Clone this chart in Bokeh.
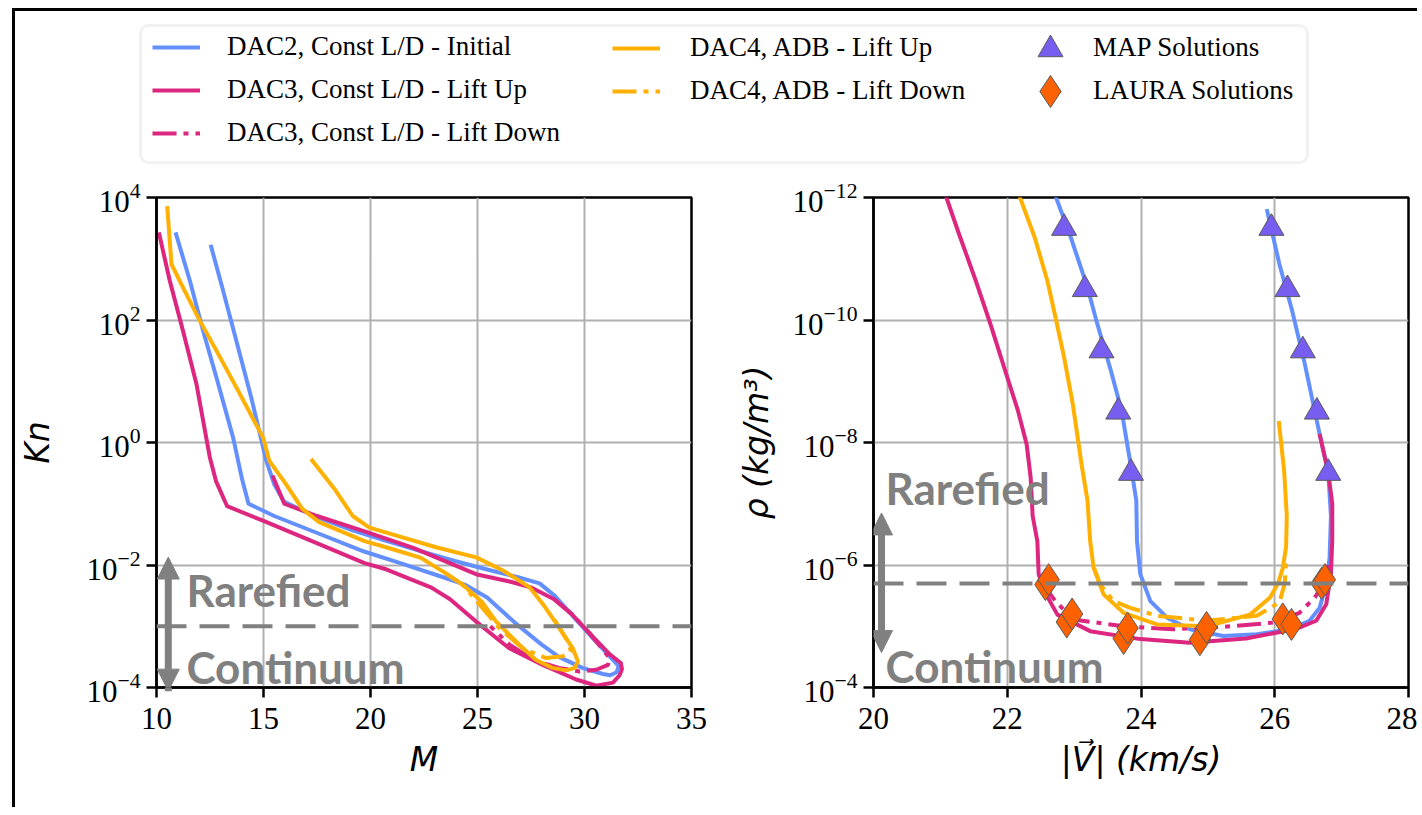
import numpy as np
from bokeh.plotting import figure
from bokeh.layouts import column, row
from bokeh.models import (Range1d, FixedTicker, Span, Label, Arrow, NormalHead,
                          Legend, LegendItem, BoxAnnotation)
from bokeh.embed import file_html
from bokeh.resources import INLINE

# ---------------- data ----------------
# Left panel: Mach number vs log10(Knudsen number)
dac2_M = [12.53, 13.11, 13.73, 14.43, 15.13, 15.5, 15.97, 17.5, 19.2, 20.7, 22.3, 23.9, 25.4,
          26.9, 27.9, 28.6, 29.5, 30.4, 31.2, 31.6, 31.5, 31.2, 30.86, 29.9, 28.8, 28.0, 26.84,
          25.45, 24.4, 23.4, 21.5, 19.7, 17.6, 15.5, 14.3, 14.0, 13.58, 12.80, 12.18, 11.56, 10.89]
dac2_logKn = [3.23, 2.48, 1.66, 0.73, -0.30, -0.68, -0.97, -1.22, -1.44, -1.6, -1.77, -1.93, -2.07,
              -2.2, -2.3, -2.5, -2.85, -3.2, -3.5, -3.65, -3.75, -3.8, -3.78, -3.68, -3.5, -3.3, -2.97,
              -2.53, -2.32, -2.2, -1.98, -1.78, -1.49, -1.2, -1.0, -0.6, 0.08, 1.06, 1.82, 2.64, 3.43]

dac3_up_M = [15.42, 15.97, 17.5, 19.72, 22.0, 24.93, 26.5, 27.53, 28.58, 29.4, 30.14, 31.18, 31.7,
             31.75, 31.64, 31.33, 30.55, 29.61, 28.05, 26.48, 24.92, 23.72, 22.85, 20.73, 19.72,
             17.6, 15.0, 13.3, 12.78, 12.49, 11.87, 11.24, 10.62, 10.11]
dac3_up_logKn = [-0.54, -1.0, -1.2, -1.45, -1.72, -2.15, -2.27, -2.37, -2.56, -2.8, -3.08, -3.46, -3.6,
                 -3.7, -3.8, -3.92, -3.97, -3.87, -3.63, -3.36, -2.92, -2.56, -2.37, -2.07, -1.97,
                 -1.66, -1.28, -1.04, -0.63, -0.24, 0.95, 1.82, 2.64, 3.43]

dac3_dn_M = [28.58, 29.4, 30.2, 30.9, 31.17, 31.1, 30.55, 29.77, 28.8, 27.6, 26.5, 25.6]
dac3_dn_logKn = [-2.56, -2.8, -3.1, -3.4, -3.52, -3.63, -3.71, -3.74, -3.68, -3.55, -3.3, -3.0]

dac4_up_M = [17.22, 18.3, 19.17, 19.95, 21.5, 23.06, 24.94, 26.19, 26.97, 27.45, 28.06, 28.83, 29.45,
             29.69, 29.55, 29.14, 28.5, 27.73, 26.95, 25.86, 25.2, 24.3, 23.36, 22.33, 20.73, 19.72,
             17.6, 16.8, 16.05, 15.27, 14.98, 13.73, 12.8, 12.02, 11.24, 10.7, 10.5]
dac4_up_logKn = [-0.27, -0.75, -1.20, -1.39, -1.55, -1.71, -1.875, -2.09, -2.26, -2.37, -2.64, -3.03,
                 -3.36, -3.57, -3.68, -3.72, -3.68, -3.55, -3.30, -2.92, -2.6, -2.32, -2.1, -1.88,
                 -1.71, -1.61, -1.30, -1.08, -0.68, -0.30, 0.08, 0.90, 1.50, 1.99, 2.53, 2.91, 3.86]

dac4_dn_M = [28.6, 29.22, 29.37, 28.98, 28.2, 27.11, 26.02, 25.08, 24.3, 23.36]
dac4_dn_logKn = [-2.9, -3.25, -3.41, -3.49, -3.52, -3.36, -3.03, -2.64, -2.32, -2.1]

# Right panel: velocity (km/s) vs log10(density kg/m^3)
dac2_V = [25.88, 26.07, 26.26, 26.45, 26.67, 26.80, 26.84, 26.82, 26.77, 26.67, 26.52, 26.22, 25.73,
          25.23, 24.73, 24.39, 24.14, 23.99, 23.94, 23.93, 23.86, 23.71, 23.55, 23.33, 23.20, 22.95,
          22.73, 22.65]
dac2_logRho = [-11.81, -10.91, -10.15, -9.28, -8.14, -7.51, -6.8, -6.12, -5.68, -5.30, -5.09, -4.95,
               -4.87, -4.84, -4.95, -5.14, -5.41, -5.85, -6.39, -7.05, -7.54, -8.52, -9.17, -10.0,
               -10.53, -11.35, -12.0, -12.3]

dac3_up_V = [26.67, 26.80, 26.86, 26.86, 26.84, 26.77, 26.62, 26.33, 25.57, 24.73, 23.99, 23.24,
             22.75, 22.55, 22.47, 22.45, 22.38, 22.35, 22.29, 22.16, 21.97, 21.75, 21.53, 21.28,
             21.09, 21.0]
dac3_up_logRho = [-8.14, -7.51, -7.0, -6.4, -5.85, -5.36, -5.09, -4.96, -4.80, -4.73, -4.79, -4.92,
                  -5.19, -5.58, -5.85, -6.39, -6.8, -7.43, -7.97, -8.52, -9.17, -9.93, -10.64, -11.40,
                  -12.0, -12.3]

dac3_dn_V = [22.5, 22.72, 22.99, 23.74, 24.48, 25.23, 25.98, 26.37, 26.60, 26.72, 26.8]
dac3_dn_logRho = [-5.74, -5.41, -5.11, -5.0, -4.95, -4.99, -5.06, -5.22, -5.47, -5.68, -6.0]

dac4_up_V = [26.06, 26.14, 26.18, 26.17, 26.12, 26.05, 25.93, 25.63, 24.98, 24.24, 23.74, 23.44,
             23.29, 23.24, 23.20, 23.11, 22.98, 22.85, 22.73, 22.60, 22.41, 22.19, 22.12]
dac4_up_logRho = [-8.35, -7.54, -6.8, -6.3, -5.95, -5.7, -5.47, -5.19, -5.0, -5.03, -5.22, -5.52,
                  -5.96, -6.39, -7.05, -7.65, -8.63, -9.39, -10.0, -10.64, -11.35, -12.0, -12.3]

dac4_dn_V = [23.3, 23.39, 23.59, 23.84, 24.24, 24.98, 25.73, 26.07, 26.15, 26.17]
dac4_dn_logRho = [-5.95, -5.68, -5.41, -5.30, -5.17, -5.09, -5.17, -5.39, -5.7, -6.1]

map_V = [22.85, 23.16, 23.41, 23.66, 23.85, 25.95, 26.19, 26.42, 26.63, 26.80]
map_logRho = [-11.5, -10.5, -9.5, -8.5, -7.5, -11.5, -10.5, -9.5, -8.5, -7.5]

laura_V = [22.57, 22.62, 22.89, 22.97, 23.74, 23.80, 24.88, 24.98, 26.12, 26.25, 26.70, 26.75]
laura_logRho = [-5.68, -5.76, -5.07, -5.20, -4.80, -4.97, -4.78, -4.98, -5.12, -5.03, -5.70, -5.76]

kn_threshold = 1e-3
rho_threshold = 2.0e-6

left_xticks = [10, 15, 20, 25, 30, 35]
left_yticks = [1e-4, 1e-2, 1e0, 1e2, 1e4]
right_xticks = [20, 22, 24, 26, 28]
right_yticks = [1e-12, 1e-10, 1e-8, 1e-6, 1e-4]

legend_labels = ["DAC2, Const L/D - Initial", "DAC3, Const L/D - Lift Up",
                 "DAC3, Const L/D - Lift Down", "DAC4, ADB - Lift Up",
                 "DAC4, ADB - Lift Down", "MAP Solutions", "LAURA Solutions"]

# ---------------- styles ----------------
BLUE, MAG, GOLD = "#648FFF", "#DC267F", "#FFB000"
PURP, ORNG, GRAY = "#785EF0", "#FE6100", "#808080"
LW = 4
DASHDOT = "24 7 5 7"
TICK_FONT = "Liberation Serif"
TRI = dict(marker="triangle", size=25, fill_color=PURP, line_color="#5a5a5a", line_width=1)
DIA = dict(marker="diamond", size=32, fill_color=ORNG, line_color="#5a5a5a", line_width=1)


def p10(a):
    return np.power(10.0, np.asarray(a, dtype=float))


def style_axes(p, xticks, yticks, xlabel, ylabel, ylabel_standoff):
    p.outline_line_color = "black"
    p.outline_line_width = 2.5
    p.xaxis.ticker = FixedTicker(ticks=xticks)
    p.yaxis.ticker = FixedTicker(ticks=yticks)
    p.xgrid.ticker = FixedTicker(ticks=xticks)
    p.ygrid.ticker = FixedTicker(ticks=yticks)
    p.grid.grid_line_color = "#b0b0b0"
    p.grid.grid_line_width = 2
    for ax in p.axis:
        ax.axis_line_color = "black"
        ax.axis_line_width = 2.5
        ax.major_tick_line_color = "black"
        ax.major_tick_line_width = 2.5
        ax.major_tick_out = 10
        ax.major_tick_in = 0
        ax.minor_tick_line_color = None
        ax.major_label_text_font = TICK_FONT
        ax.major_label_text_font_size = "31px"
        ax.major_label_text_color = "black"
        ax.axis_label_text_font = "DejaVu Sans"
        ax.axis_label_text_font_style = "italic"
        ax.axis_label_text_font_size = "33px"
        ax.axis_label_text_color = "black"
    p.xaxis.axis_label = xlabel
    p.yaxis.axis_label = ylabel
    p.xaxis.major_label_standoff = 10
    p.xaxis.axis_label_standoff = 8
    p.yaxis.major_label_standoff = 6
    p.yaxis.axis_label_standoff = ylabel_standoff


def add_regime(p, x_txt, y_rar, y_con, x_arr, y_top, y_bot, y_dash):
    p.add_layout(Span(location=y_dash, dimension="width", line_color=GRAY,
                      line_width=4, line_dash="30 13"))
    head = dict(size=22, fill_color=GRAY, line_color=GRAY)
    p.add_layout(Arrow(x_start=x_arr, y_start=y_top, x_end=x_arr, y_end=y_bot,
                       start=NormalHead(**head), end=NormalHead(**head),
                       line_color=GRAY, line_width=7))
    for txt, yy in (("Rarefied", y_rar), ("Continuum", y_con)):
        p.add_layout(Label(x=x_txt, y=yy, text=txt, text_font="Lato",
                           text_font_style="bold", text_font_size="44px",
                           text_color=GRAY, text_baseline="middle"))


# ---------------- left panel ----------------
p1 = figure(x_range=Range1d(10, 35), y_range=Range1d(1e-4, 1e4), y_axis_type="log",
            frame_width=535, frame_height=490, min_border_left=138, min_border_right=30,
            min_border_top=29, min_border_bottom=120, output_backend="svg",
            toolbar_location=None)
style_axes(p1, left_xticks, left_yticks, "M", "Kn", 26)
add_regime(p1, 11.4, p10(-2.405), p10(-3.67), 10.55, p10(-1.87), p10(-4.06), kn_threshold)
lk = dict(line_width=LW, line_join="round", line_cap="butt")
p1.line(dac2_M, p10(dac2_logKn), line_color=BLUE, **lk)
p1.line(dac3_up_M, p10(dac3_up_logKn), line_color=MAG, **lk)
p1.line(dac3_dn_M, p10(dac3_dn_logKn), line_color=MAG, line_dash=DASHDOT, **lk)
p1.line(dac4_up_M, p10(dac4_up_logKn), line_color=GOLD, **lk)
p1.line(dac4_dn_M, p10(dac4_dn_logKn), line_color=GOLD, line_dash=DASHDOT, **lk)

# ---------------- right panel ----------------
p2 = figure(x_range=Range1d(20, 28), y_range=Range1d(1e-4, 1e-12), y_axis_type="log",
            frame_width=535, frame_height=490, min_border_left=152, min_border_right=9,
            min_border_top=29, min_border_bottom=120, output_backend="svg",
            toolbar_location=None)
style_axes(p2, right_xticks, right_yticks, "|V\u20d7| (km/s)", "\u03c1 (kg/m\u00b3)", 14)
add_regime(p2, 20.18, p10(-7.25), p10(-4.35), 20.12, p10(-6.85), p10(-4.57), rho_threshold)
p2.line(dac2_V, p10(dac2_logRho), line_color=BLUE, **lk)
p2.line(dac3_up_V, p10(dac3_up_logRho), line_color=MAG, **lk)
p2.line(dac3_dn_V, p10(dac3_dn_logRho), line_color=MAG, line_dash=DASHDOT, **lk)
p2.line(dac4_up_V, p10(dac4_up_logRho), line_color=GOLD, **lk)
p2.line(dac4_dn_V, p10(dac4_dn_logRho), line_color=GOLD, line_dash=DASHDOT, **lk)
p2.scatter(map_V, p10(map_logRho), **TRI)
p2.scatter(laura_V, p10(laura_logRho), **DIA)

# ---------------- legend strip (pixel-unit canvas) ----------------
leg = figure(x_range=Range1d(0, 1399), y_range=Range1d(0, 157), frame_width=1399,
             frame_height=157, min_border=0, x_axis_location=None, y_axis_location=None,
             output_backend="svg", toolbar_location=None)
leg.grid.visible = False
leg.outline_line_color = None
box = BoxAnnotation(left=125, right=1292, bottom=6, top=143, fill_color="white",
                    fill_alpha=1, line_color="#d4d4d4", line_width=3, border_radius=8,
                    level="underlay")
leg.add_layout(box)

# legend proxies placed outside the visible range of the strip
proxy_x, proxy_y = [-50, -40], [-50, -40]
r_dac2 = leg.line(proxy_x, proxy_y, line_color=BLUE, **lk)
r_dac3u = leg.line(proxy_x, proxy_y, line_color=MAG, **lk)
r_dac3d = leg.line(proxy_x, proxy_y, line_color=MAG, line_dash=DASHDOT, **lk)
r_dac4u = leg.line(proxy_x, proxy_y, line_color=GOLD, **lk)
r_dac4d = leg.line(proxy_x, proxy_y, line_color=GOLD, line_dash=DASHDOT, **lk)
r_map = leg.line(proxy_x, proxy_y, line_alpha=0)
r_laura = leg.line(proxy_x, proxy_y, line_alpha=0)
rends = [r_dac2, r_dac3u, r_dac3d, r_dac4u, r_dac4d, r_map, r_laura]


def mk_legend(idx, x, y, standoff):
    lg = Legend(items=[LegendItem(label=legend_labels[i], renderers=[rends[i]]) for i in idx],
                location=(x, y), orientation="vertical", label_text_font=TICK_FONT,
                label_text_font_size="27px", label_text_color="black",
                glyph_width=48, glyph_height=30, label_height=30, spacing=12,
                padding=0, margin=0, border_line_color=None, background_fill_alpha=0,
                label_standoff=standoff)
    leg.add_layout(lg)
    return lg


mk_legend([0, 1, 2], 137, 20, 27)
mk_legend([3, 4], 597, 62, 30)
mk_legend([5, 6], 1011, 62, 19)

# full-size marker keys for the third legend column (legend-strip pixel units)
key_x = [1035]
leg.scatter(key_x, [119], **TRI)
leg.scatter(key_x, [77], **DIA)

layout = column(leg, row(p1, p2), margin=(8, 0, 0, 12),
                styles={"border-top": "3px solid black", "border-left": "3px solid black"})

with open("out.html", "w") as f:
    f.write(file_html(layout, INLINE))
